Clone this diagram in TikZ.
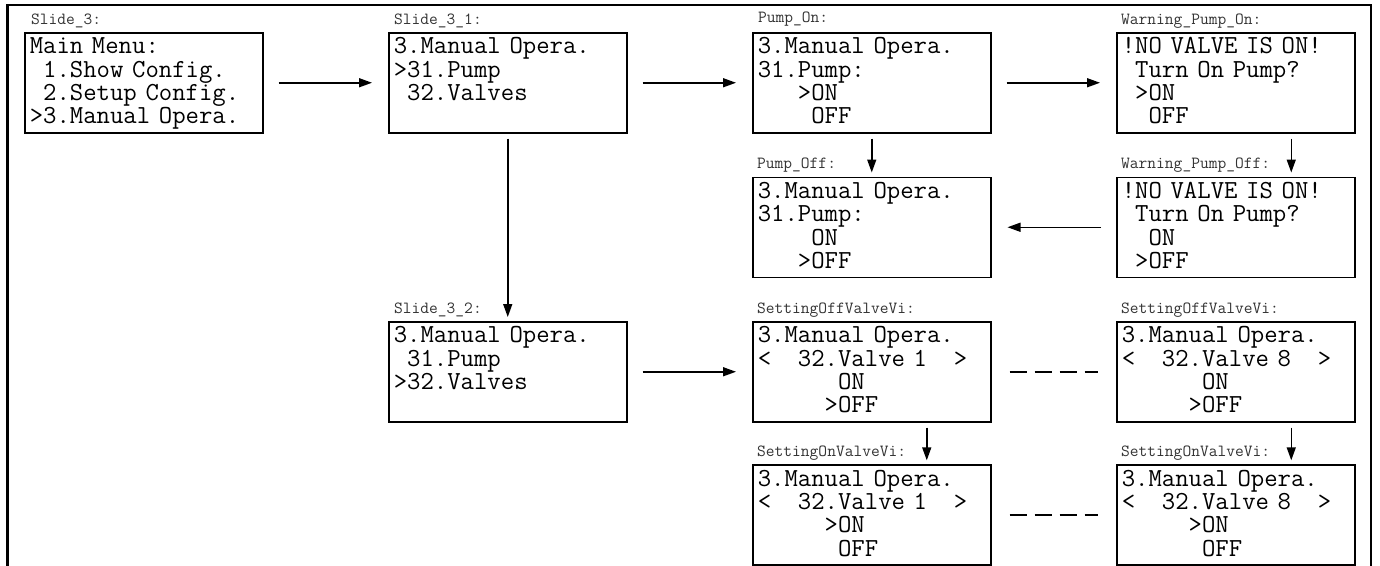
\documentclass[tikz,border=0pt]{standalone}
\usepackage{fontspec}
\usetikzlibrary{arrows.meta}
\newcommand\sk{\hphantom{0}}
\newcommand\ls{\rule[-6.8pt]{0pt}{25.8pt}}
\protected\def\scrfont{\ttfamily\fontsize{26}{23.4}\selectfont\spaceskip=13.65pt\relax\lineskiplimit=-20pt\relax}
\protected\def\lblfont{\ttfamily\fontsize{17}{17}\selectfont}
\frenchspacing
\tikzset{
  screen/.style={draw, line width=1.5pt, anchor=north west, minimum width=238pt,
    minimum height=100pt, text width=228pt, inner xsep=5pt, inner ysep=2pt,
    align=left, font=\scrfont},
  lbl/.style={anchor=base west, inner sep=0pt, text=black!80, font=\lblfont},
  arr/.style={-{Triangle[length=13pt,width=9pt]}, line width=1.5pt},
  hshort/.style={shorten <=15pt, shorten >=16pt},
  vshort/.style={shorten <=5pt, shorten >=4pt},
  dsh/.style={line width=1.7pt, dash pattern=on 17pt off 8pt, shorten <=18pt, shorten >=18pt},
  frame/.style={line width=2.5pt}
}
\begin{document}
\begin{tikzpicture}[x=1pt, y=-1pt]
\useasboundingbox (0,0) rectangle (1380,565);
\draw[frame] (7.5,567) -- (7.5,5) -- (1371,5) -- (1371,567);

% row 1
\node[screen] (S3) at (24,32) {\ls Main Menu:\\\ls\sk 1.Show Config.\\\ls\sk 2.Setup Config.\\\ls>3.Manual Opera.};
\node[screen] (S31) at (388,32) {\ls 3.Manual Opera.\\\ls>31.Pump\\\ls\sk 32.Valves\\\ls};
\node[screen] (PON) at (752,32) {\ls 3.Manual Opera.\\\ls 31.Pump:\\\ls\sk\sk\sk>ON\\\ls\sk\sk\sk\sk OFF};
\node[screen] (WON) at (1116,32) {\ls!NO VALVE IS ON!\\\ls\sk Turn On Pump?\\\ls\sk>ON\\\ls\sk\sk OFF};
% row 2
\node[screen] (POFF) at (752,176.5) {\ls 3.Manual Opera.\\\ls 31.Pump:\\\ls\sk\sk\sk\sk ON\\\ls\sk\sk\sk>OFF};
\node[screen] (WOFF) at (1116,176.5) {\ls!NO VALVE IS ON!\\\ls\sk Turn On Pump?\\\ls\sk\sk ON\\\ls\sk>OFF};
% row 3
\node[screen] (S32) at (388,321) {\ls 3.Manual Opera.\\\ls\sk 31.Pump\\\ls>32.Valves\\\ls};
\node[screen] (SOFF1) at (752,321) {\ls 3.Manual Opera.\\\ls<\sk\sk 32.Valve 1\sk\sk>\\\ls\sk\sk\sk\sk\sk\sk ON\\\ls\sk\sk\sk\sk\sk>OFF};
\node[screen] (SOFF8) at (1116,321) {\ls 3.Manual Opera.\\\ls<\sk\sk 32.Valve 8\sk\sk>\\\ls\sk\sk\sk\sk\sk\sk ON\\\ls\sk\sk\sk\sk\sk>OFF};
% row 4
\node[screen] (SON1) at (752,464.3) {\ls 3.Manual Opera.\\\ls<\sk\sk 32.Valve 1\sk\sk>\\\ls\sk\sk\sk\sk\sk>ON\\\ls\sk\sk\sk\sk\sk\sk OFF};
\node[screen] (SON8) at (1116,464.3) {\ls 3.Manual Opera.\\\ls<\sk\sk 32.Valve 8\sk\sk>\\\ls\sk\sk\sk\sk\sk>ON\\\ls\sk\sk\sk\sk\sk\sk OFF};

% labels
\node[lbl] (lS3) at ([xshift=7pt,yshift=7.5pt]S3.north west) {Slide\_3:};
\node[lbl] (lS31) at ([xshift=6pt,yshift=7.5pt]S31.north west) {Slide\_3\_1:};
\node[lbl] (lPON) at ([xshift=6pt,yshift=10pt]PON.north west) {Pump\_On:};
\node[lbl] (lWON) at ([xshift=5pt,yshift=8pt]WON.north west) {Warning\_Pump\_On:};
\node[lbl] (lPOFF) at ([xshift=5pt,yshift=8pt]POFF.north west) {Pump\_Off:};
\node[lbl] (lWOFF) at ([xshift=5pt,yshift=8pt]WOFF.north west) {Warning\_Pump\_Off:};
\node[lbl] (lS32) at ([xshift=6pt,yshift=7.5pt]S32.north west) {Slide\_3\_2:};
\node[lbl] (lSOFF1) at ([xshift=5pt,yshift=8pt]SOFF1.north west) {SettingOffValveVi:};
\node[lbl] (lSOFF8) at ([xshift=5pt,yshift=8pt]SOFF8.north west) {SettingOffValveVi:};
\node[lbl] (lSON1) at ([xshift=5pt,yshift=8pt]SON1.north west) {SettingOnValveVi:};
\node[lbl] (lSON8) at ([xshift=5pt,yshift=8pt]SON8.north west) {SettingOnValveVi:};

% connectors
\draw[arr, hshort] (S3.east) -- (S31.west);
\draw[arr, hshort] (S31.east) -- (PON.west);
\draw[arr, hshort] (PON.east) -- (WON.west);
\draw[arr, vshort] (S31.south) -- (S32.north);
\draw[arr, vshort] (PON.south) -- (POFF.north);
\draw[arr, vshort] ([xshift=55.5pt]WON.south) -- ([xshift=55.5pt]WOFF.north);
\draw[arr, hshort] (WOFF.west) -- (POFF.east);
\draw[arr, hshort] (S32.east) -- (SOFF1.west);
\draw[dsh] (SOFF1.east) -- (SOFF8.west);
\draw[dsh] (SON1.east) -- (SON8.west);
\draw[arr, vshort] ([xshift=55pt]SOFF1.south) -- ([xshift=55pt]SON1.north);
\draw[arr, vshort] ([xshift=55.5pt]SOFF8.south) -- ([xshift=55.5pt]SON8.north);
\end{tikzpicture}
\end{document}
